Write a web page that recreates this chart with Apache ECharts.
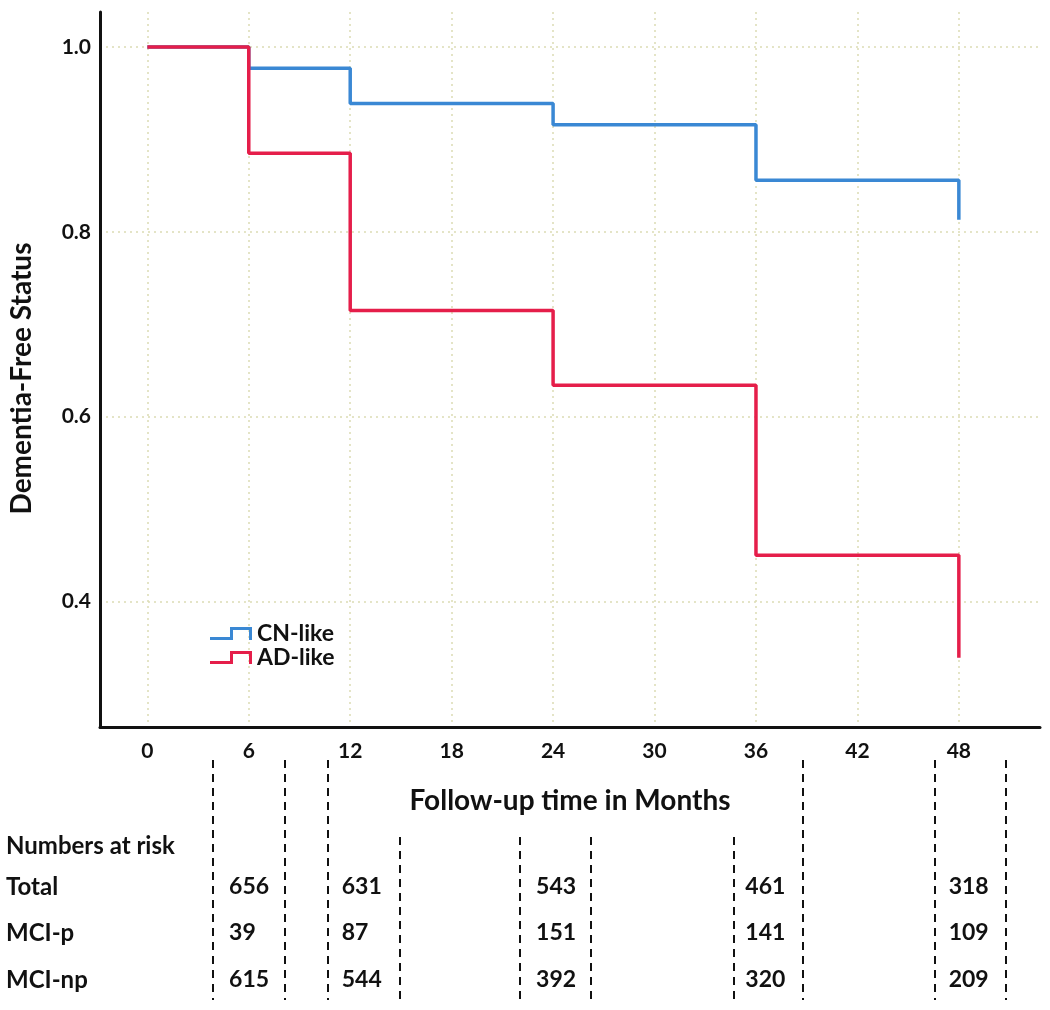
<!DOCTYPE html>
<html><head><meta charset="utf-8">
<script src="https://cdn.jsdelivr.net/npm/echarts@6/dist/echarts.min.js"></script>
<style>html,body{margin:0;padding:0;background:#fff}#c{width:1050px;height:1010px}</style>
</head><body><div id="c"></div>
<script>
// ---- data ----
const months = [0, 6, 12, 24, 36, 48];
const cnLike = [1.0, 0.977, 0.939, 0.916, 0.856, 0.813];
const adLike = [1.0, 0.885, 0.715, 0.634, 0.450, 0.339];
const seriesNames = ['CN-like', 'AD-like'];
const xTicks = [0, 6, 12, 18, 24, 30, 36, 42, 48];
const yTicks = [0.4, 0.6, 0.8, 1.0];
const riskMonths = [6, 12, 24, 36, 48];
const riskRowNames = ['Numbers at risk', 'Total', 'MCI-p', 'MCI-np'];
const riskTotal = [656, 631, 543, 461, 318];
const riskMCIp = [39, 87, 151, 141, 109];
const riskMCInp = [615, 544, 392, 320, 209];

// ---- layout (not data) ----
const FONT = 'Lato';
const rowPos = [86, 127, 173, 220];            // table row positions (table-grid units)
const colLabelOffset = [-18, -7, -16, -10, -10]; // px shift of each risk column's left edge
const longSeps = [4.0, 8.25, 10.75, 38.8, 46.6, 50.8];
const shortSeps = [15.0, 22.1, 26.3, 34.7];

const chart = echarts.init(document.getElementById('c'), null, {renderer: 'canvas'});

const pair = (xs, ys) => xs.map((x, i) => [x, ys[i]]);
const riskData = [];
[riskTotal, riskMCIp, riskMCInp].forEach((row, r) => {
  row.forEach((v, i) => riskData.push({
    value: [riskMonths[i], rowPos[r + 1], v],
    label: {offset: [colLabelOffset[i], 0]}
  }));
});
const sepLines = [];
longSeps.forEach(x => sepLines.push([{coord: [x, 0]}, {coord: [x, 240]}]));
shortSeps.forEach(x => sepLines.push([{coord: [x, 77]}, {coord: [x, 240]}]));

const iconPath = 'path://M0,10 L20,10 L20,0 L42,0 L42,13 L39,13 L39,3 L23,3 L23,13 L0,13 Z';
const gridLine = {show: true, lineStyle: {color: '#dcdcb4', type: [2, 4], width: 1.5}};

chart.setOption({
  backgroundColor: '#fff',
  animation: false,
  textStyle: {fontFamily: FONT},
  grid: [
    {left: 98, right: 10, top: 12, bottom: 283},
    {left: 98, right: 10, top: 760, height: 240}
  ],
  legend: {
    orient: 'vertical', left: 205, top: 617,
    itemWidth: 42, itemHeight: 13, itemGap: 1,
    data: seriesNames.map(n => ({name: n, icon: iconPath})),
    textStyle: {fontFamily: FONT, fontSize: 23, fontWeight: 'bold', color: '#111'}
  },
  xAxis: [
    {
      type: 'value', gridIndex: 0, min: -2.8, max: 52.8,
      name: 'Follow-up time in Months', nameLocation: 'middle', nameGap: 60,
      nameTextStyle: {fontFamily: FONT, fontSize: 28, fontWeight: 'bold', color: '#111'},
      axisLine: {show: true, onZero: false, lineStyle: {color: '#111', width: 3}},
      axisTick: {show: false, customValues: xTicks},
      axisLabel: {customValues: xTicks, fontFamily: FONT, fontSize: 21, fontWeight: 'bold', color: '#111', margin: 14},
      splitLine: gridLine
    },
    {type: 'value', gridIndex: 1, min: -2.8, max: 52.8, show: false}
  ],
  yAxis: [
    {
      type: 'value', gridIndex: 0, min: 0.264, max: 1.038,
      name: 'Dementia-Free Status', nameLocation: 'middle', nameGap: 64, nameRotate: 90,
      nameTextStyle: {fontFamily: FONT, fontSize: 28, fontWeight: 'bold', color: '#111', padding: [0, 18, 0, 0]},
      axisLine: {show: true, onZero: false, lineStyle: {color: '#111', width: 3}},
      axisTick: {show: false, customValues: yTicks},
      axisLabel: {customValues: yTicks, formatter: v => v.toFixed(1), fontFamily: FONT, fontSize: 21, fontWeight: 'bold', color: '#111', margin: 9},
      splitLine: gridLine
    },
    {
      type: 'value', gridIndex: 1, min: 0, max: 240, inverse: true,
      axisLine: {show: false}, splitLine: {show: false},
      axisTick: {show: false, customValues: rowPos},
      axisLabel: {
        customValues: rowPos, align: 'left', margin: 92,
        formatter: v => riskRowNames[rowPos.indexOf(Math.round(v))] || '',
        fontFamily: FONT, fontSize: 24, fontWeight: 'bold', color: '#111'
      }
    }
  ],
  series: [
    {
      name: seriesNames[0], type: 'line', step: 'end', symbol: 'none',
      xAxisIndex: 0, yAxisIndex: 0,
      data: pair(months, cnLike),
      lineStyle: {color: '#3a88d4', width: 3.5}, itemStyle: {color: '#3a88d4'}, z: 3
    },
    {
      name: seriesNames[1], type: 'line', step: 'end', symbol: 'none',
      xAxisIndex: 0, yAxisIndex: 0,
      data: pair(months, adLike),
      lineStyle: {color: '#e51e4a', width: 3.5}, itemStyle: {color: '#e51e4a'}, z: 4
    },
    {
      name: 'risk', type: 'scatter', xAxisIndex: 1, yAxisIndex: 1,
      symbolSize: 1, itemStyle: {color: '#fff'}, silent: true,
      data: riskData,
      label: {
        show: true, position: 'inside', align: 'left', verticalAlign: 'middle',
        formatter: p => String(p.value[2]),
        fontFamily: FONT, fontSize: 23, fontWeight: 'bold', color: '#111',
        textBorderWidth: 0, opacity: 1
      },
      markLine: {
        silent: true, symbol: ['none', 'none'], label: {show: false},
        lineStyle: {color: '#111', type: [8, 6], width: 2},
        data: sepLines
      }
    }
  ]
});
</script>
</body></html>
